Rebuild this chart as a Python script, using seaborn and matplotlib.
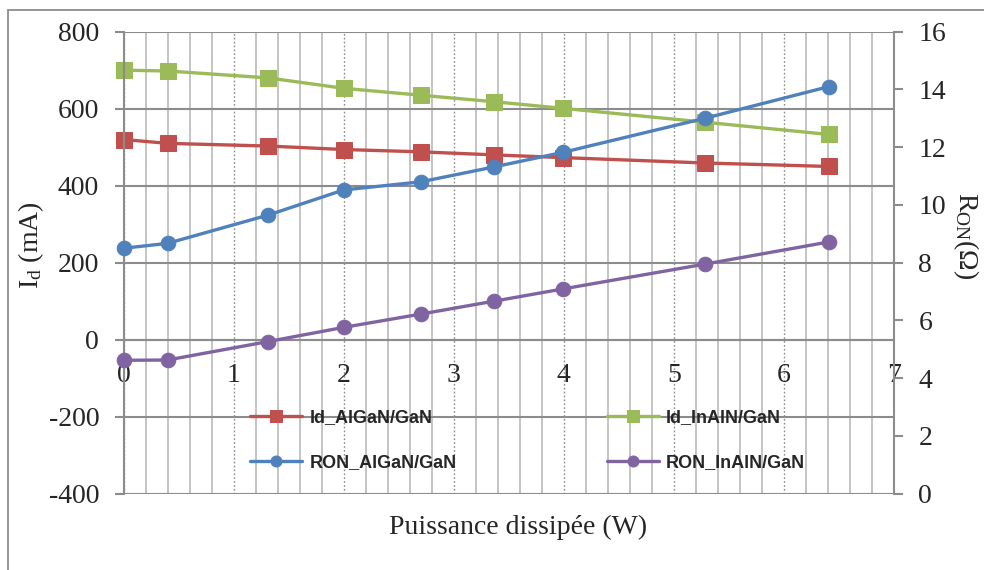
import numpy as np
import pandas as pd
import matplotlib
matplotlib.use("Agg")
import matplotlib.pyplot as plt
import seaborn as sns
from matplotlib.patches import Rectangle
from matplotlib.ticker import MultipleLocator

# Data
power = [0.0, 0.4, 1.315, 2.0, 2.7, 3.37, 3.99, 5.28, 6.41]
id_algan = [520, 510, 503, 494, 488, 480, 473, 459, 450]
id_inaln = [700, 698, 680, 653, 635, 618, 601, 565, 533]
ron_algan = [8.5, 8.67, 9.65, 10.52, 10.8, 11.32, 11.82, 13.0, 14.1]
ron_inaln = [4.62, 4.63, 5.27, 5.76, 6.22, 6.67, 7.09, 7.95, 8.72]

labels = ["Id_AlGaN/GaN", "Id_InAlN/GaN", "RON_AlGaN/GaN", "RON_InAlN/GaN"]
colors = ["#C0504D", "#9BBB59", "#4F81BD", "#8064A2"]

df = pd.DataFrame({"P": power, "id_algan": id_algan, "id_inaln": id_inaln,
                   "ron_algan": ron_algan, "ron_inaln": ron_inaln})

sns.set_style("white")
plt.rcParams["font.family"] = ["Liberation Serif", "DejaVu Serif"]
plt.rcParams["mathtext.fontset"] = "custom"
plt.rcParams["mathtext.rm"] = "Liberation Serif"
plt.rcParams["mathtext.it"] = "Liberation Serif:italic"
plt.rcParams["axes.unicode_minus"] = False

fig = plt.figure(figsize=(9.84, 5.70), dpi=100)
W, H = 984, 570
ax = fig.add_axes([123.5 / W, 1 - 493.7 / H, (894 - 123.5) / W, (493.7 - 31.7) / H])
ax2 = ax.twinx()

# grid
ax.set_xlim(0, 7)
ax.set_ylim(-400, 800)
ax.xaxis.set_major_locator(MultipleLocator(1))
ax.xaxis.set_minor_locator(MultipleLocator(0.2))
ax.yaxis.set_major_locator(MultipleLocator(200))
ax.grid(which="minor", axis="x", color="#BFBFBF", lw=1.3, ls="-")
ax.grid(which="major", axis="x", color="#8C8C8C", lw=1.0, ls=(0, (1.2, 1.6)))
ax.grid(which="major", axis="y", color="#8C8C8C", lw=1.5, ls="-")
ax.set_axisbelow(True)

lw = 2.4
sns.lineplot(data=df, x="P", y="id_algan", ax=ax, color=colors[0], marker="s",
             markersize=11.5, markeredgecolor=colors[0], lw=lw, legend=False, clip_on=False)
sns.lineplot(data=df, x="P", y="id_inaln", ax=ax, color=colors[1], marker="s",
             markersize=11.5, markeredgecolor=colors[1], lw=lw, legend=False, clip_on=False)
sns.lineplot(data=df, x="P", y="ron_algan", ax=ax2, color=colors[2], marker="o",
             markersize=10.5, markeredgecolor=colors[2], lw=lw, legend=False, clip_on=False)
sns.lineplot(data=df, x="P", y="ron_inaln", ax=ax2, color=colors[3], marker="o",
             markersize=10.5, markeredgecolor=colors[3], lw=lw, legend=False, clip_on=False)

ax2.set_ylim(0, 16)
ax2.yaxis.set_major_locator(MultipleLocator(2))

# spines
for a in (ax, ax2):
    for s in a.spines.values():
        s.set_visible(False)
ax.spines["left"].set_visible(True)
ax.spines["left"].set_color("#8C8C8C")
ax.spines["left"].set_linewidth(1.5)
ax.spines["bottom"].set_visible(True)
ax.spines["bottom"].set_position(("data", 0))
ax.spines["bottom"].set_color("#8C8C8C")
ax.spines["bottom"].set_linewidth(1.5)
ax2.spines["right"].set_visible(True)
ax2.spines["right"].set_color("#8C8C8C")
ax2.spines["right"].set_linewidth(1.5)

fs = 20
ax.tick_params(axis="y", which="major", direction="out", length=6.5, width=1.5,
               color="#8C8C8C", pad=11, labelsize=fs, left=True)
ax.tick_params(axis="x", which="both", length=0, pad=17, labelsize=fs)
ax2.tick_params(axis="y", direction="out", length=6.5, width=1.5,
                color="#8C8C8C", pad=11, labelsize=fs, right=True)
ax.set_xticks(range(0, 8))
ax.set_xticklabels([str(i) for i in range(0, 8)])

ax.set_xlabel("")
ax.set_ylabel("")
ax2.set_ylabel("")
fig.text(518 / W, 1 - 527 / H, "Puissance dissipée (W)", ha="center", va="center", fontsize=fs)
fig.text(31 / W, 1 - 245 / H, r"I$_\mathrm{d}$ (mA)", ha="center", va="center",
         rotation=90, fontsize=fs)
fig.text(966 / W, 1 - 236 / H, r"R$_\mathrm{ON}$(Ω)", ha="center", va="center",
         rotation=270, fontsize=fs)

# legend (two columns, no frame)
handles = [ax.lines[0], ax2.lines[0], ax.lines[1], ax2.lines[1]]
leg_labels = [labels[0], labels[2], labels[1], labels[3]]
leg = ax.legend(handles, leg_labels, ncol=2, loc="upper left",
                bbox_to_anchor=(250 / W, 1 - 409 / H), bbox_transform=fig.transFigure,
                frameon=False, borderpad=0, borderaxespad=0, handlelength=2.9,
                handletextpad=0.4, columnspacing=8.3, labelspacing=1.55, markerscale=0.75,
                prop={"family": "Liberation Sans", "weight": "bold", "size": 13})

# outer border of the chart area
fig.add_artist(Rectangle((8 / W, -0.1), 1.2, 1 - 10 / H + 0.1, transform=fig.transFigure,
                         fill=False, edgecolor="#8C8C8C", lw=1.3))

fig.savefig("out.png", dpi=100)
